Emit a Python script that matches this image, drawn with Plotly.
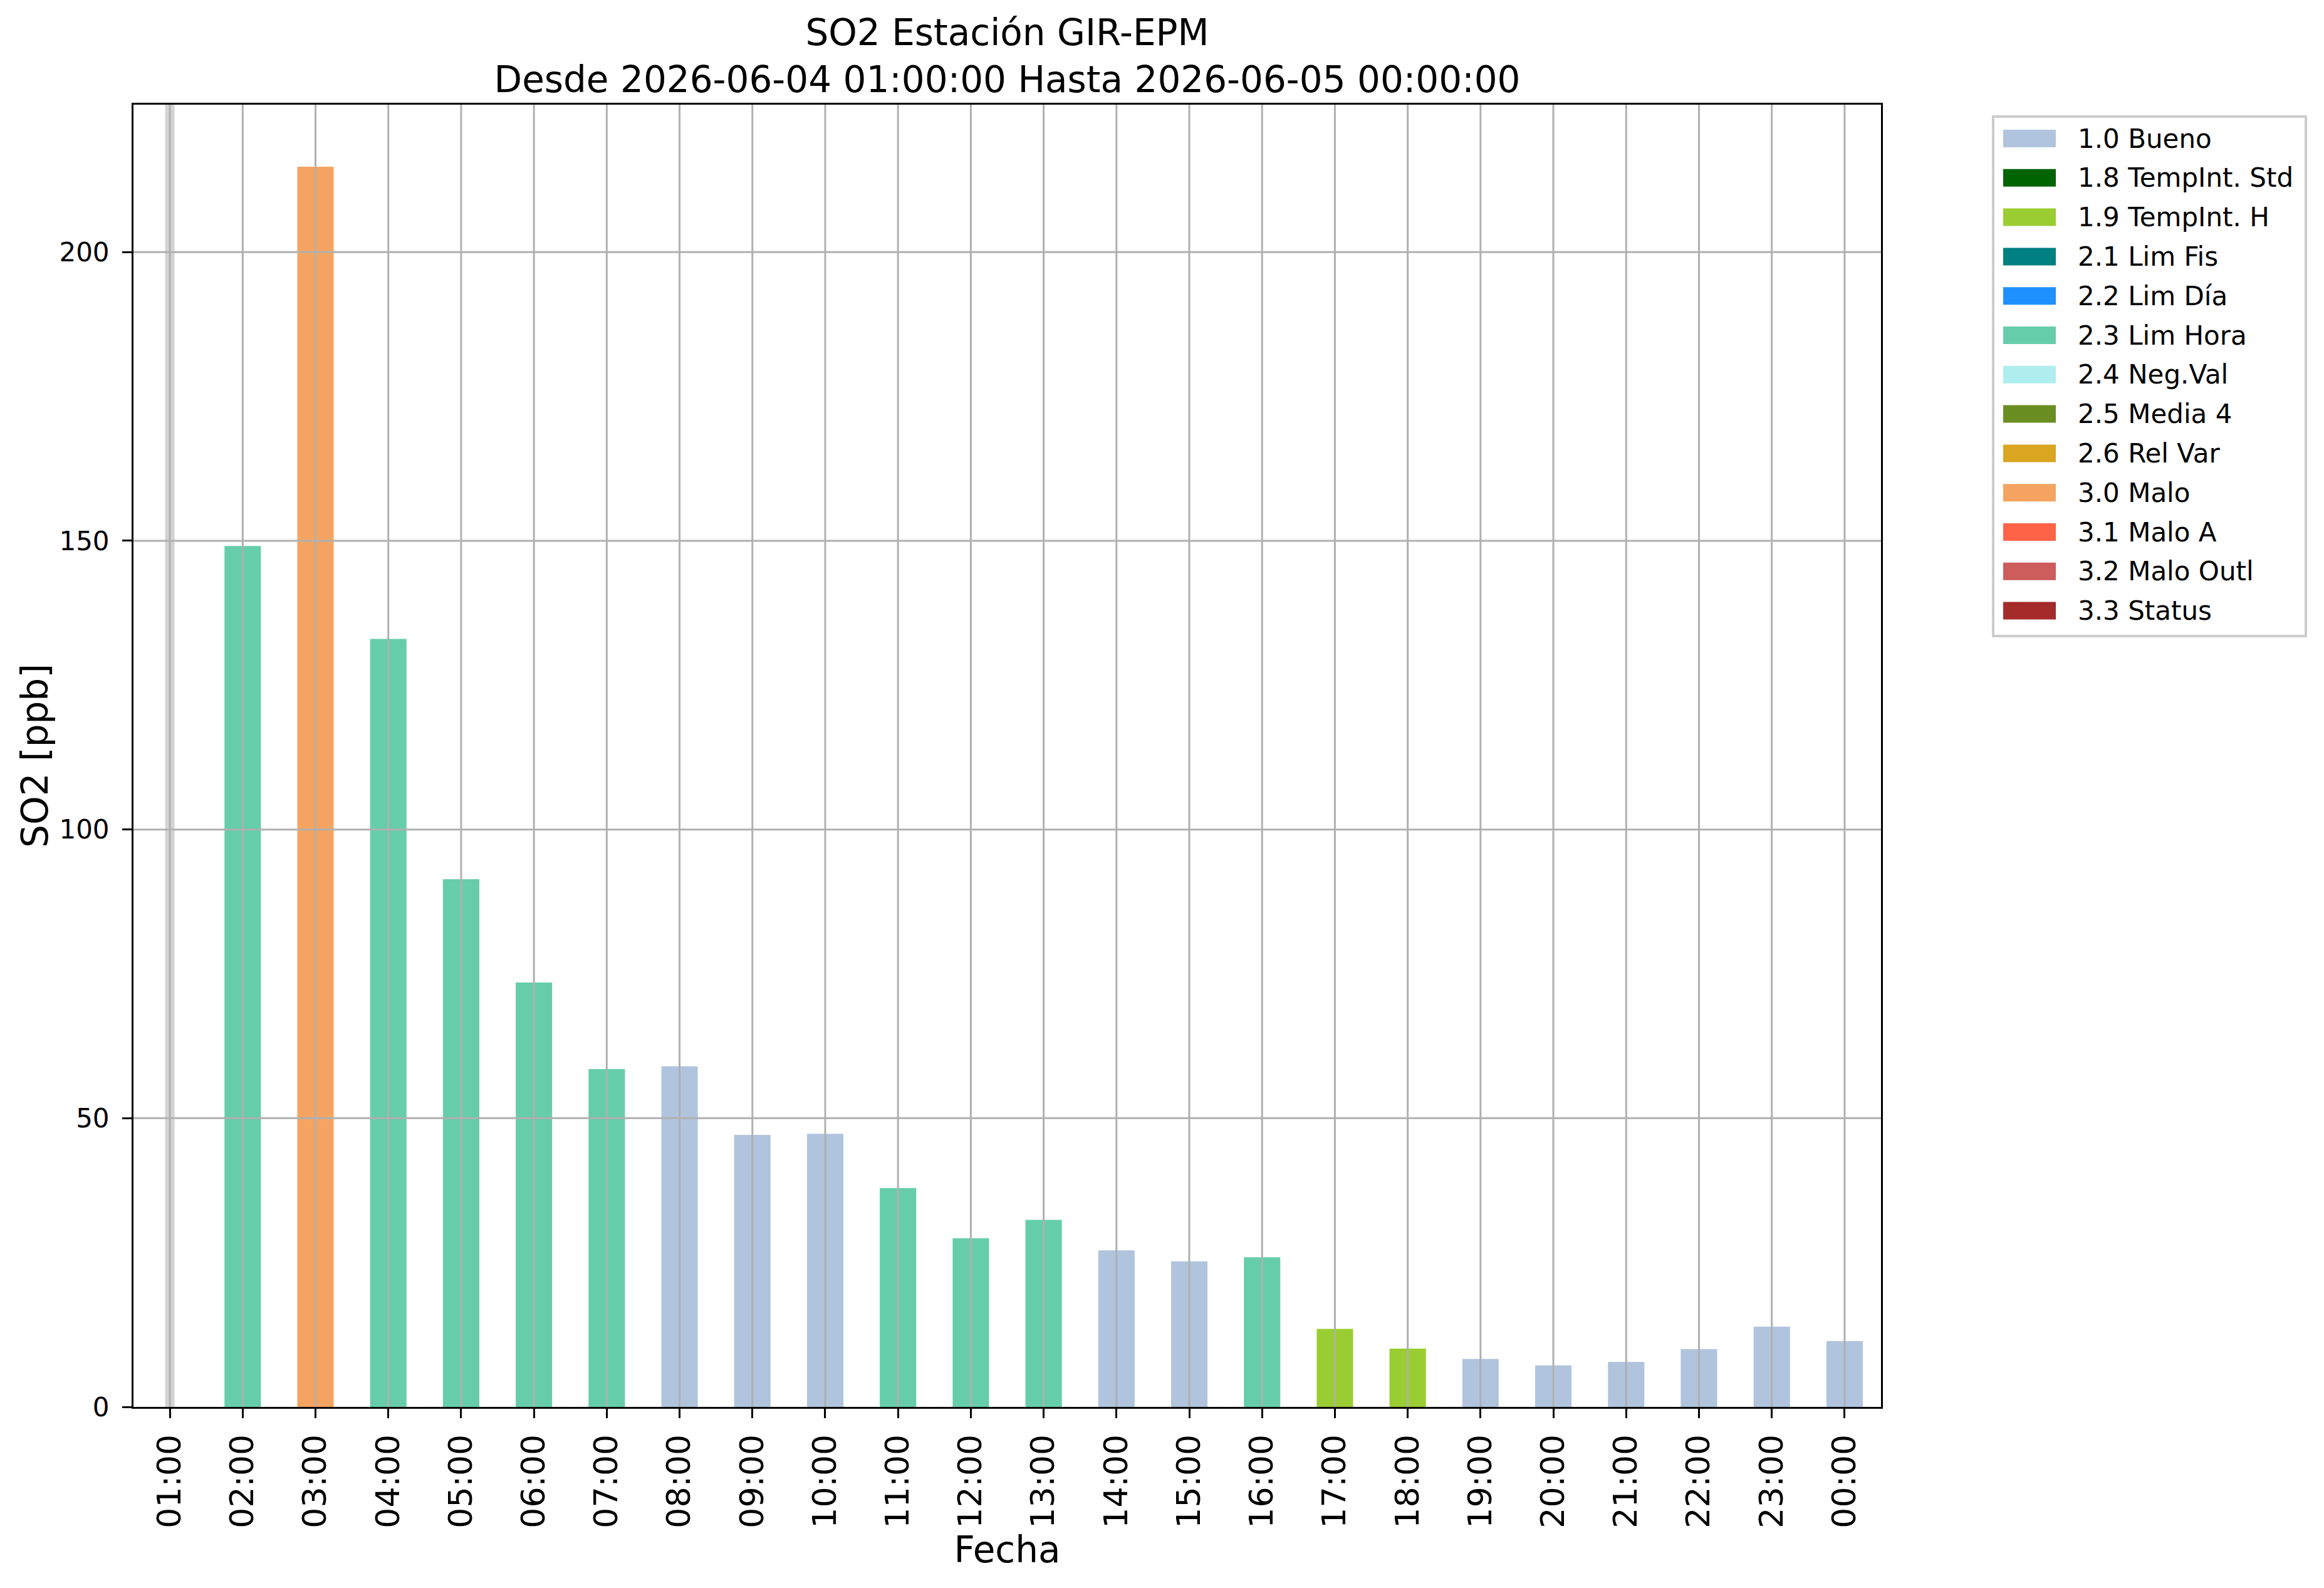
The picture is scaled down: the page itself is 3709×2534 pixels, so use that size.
import plotly.graph_objects as go

# hourly SO2 values (None = no data)
hours = ["01:00", "02:00", "03:00", "04:00", "05:00", "06:00", "07:00", "08:00",
         "09:00", "10:00", "11:00", "12:00", "13:00", "14:00", "15:00", "16:00",
         "17:00", "18:00", "19:00", "20:00", "21:00", "22:00", "23:00", "00:00"]
so2 = [None, 149.1, 214.8, 133.0, 91.4, 73.5, 58.5, 59.0,
       47.1, 47.3, 37.9, 29.2, 32.4, 27.1, 25.2, 25.9,
       13.5, 10.1, 8.3, 7.2, 7.8, 10.0, 13.9, 11.4]
flags = [None, "2.3", "3.0", "2.3", "2.3", "2.3", "2.3", "1.0",
         "1.0", "1.0", "2.3", "2.3", "2.3", "1.0", "1.0", "2.3",
         "1.9", "1.9", "1.0", "1.0", "1.0", "1.0", "1.0", "1.0"]

# quality flag categories
flag_codes = ["1.0", "1.8", "1.9", "2.1", "2.2", "2.3", "2.4", "2.5", "2.6",
              "3.0", "3.1", "3.2", "3.3"]
flag_names = ["Bueno", "TempInt. Std", "TempInt. H", "Lim Fis", "Lim Día",
              "Lim Hora", "Neg.Val", "Media 4", "Rel Var", "Malo", "Malo A",
              "Malo Outl", "Status"]
flag_colors = ["#B0C4DE", "#006400", "#9ACD32", "#008080", "#1E90FF",
               "#66CDAA", "#AFEEEE", "#6B8E23", "#DAA520", "#F4A460",
               "#FF6347", "#CD5C5C", "#A52A2A"]

FONT = "DejaVu Sans"
W, H = 3709, 2534
L, T = 205, 159
PW, PH = 2789, 2078          # plot area size in px
R, B = W - L - PW, H - T - PH


def px_x(x):
    return (x - L) / PW


def px_y(y):
    return 1 - (y - T) / PH


fig = go.Figure()

for code, name, color in zip(flag_codes, flag_names, flag_colors):
    yvals = [v if f == code else None for v, f in zip(so2, flags)]
    fig.add_trace(go.Bar(
        x=hours, y=yvals, name=f"{code} {name}",
        marker=dict(color=color, line=dict(width=0)),
        width=0.5, showlegend=False,
    ))

ymax = max(v for v in so2 if v is not None) * 1.05

# missing hours -> thin grey band
for i, v in enumerate(so2):
    if v is None:
        fig.add_vrect(x0=i - 0.065, x1=i + 0.065, fillcolor="#D3D3D3",
                      line_width=0, layer="below")

# grid drawn on top of the bars, like the original
grid = dict(color="#B0B0B0", width=3)
for h in hours:
    fig.add_shape(type="line", xref="x", yref="paper", x0=h, x1=h, y0=0, y1=1,
                  line=grid, layer="above")
for yv in range(50, int(ymax) + 1, 50):
    fig.add_shape(type="line", xref="paper", yref="y", x0=0, x1=1, y0=yv, y1=yv,
                  line=grid, layer="above")

# legend box (matplotlib style: wide colour patches)
fig.add_shape(type="rect", xref="paper", yref="paper",
              x0=px_x(3173), x1=px_x(3672), y0=px_y(1007), y1=px_y(178),
              line=dict(color="#CCCCCC", width=4), fillcolor="white", layer="above")
for i, (code, name, color) in enumerate(zip(flag_codes, flag_names, flag_colors)):
    yc = 213 + i * 62.8
    fig.add_shape(type="rect", xref="paper", yref="paper",
                  x0=px_x(3189), x1=px_x(3273), y0=px_y(yc + 14), y1=px_y(yc - 14),
                  line_width=0, fillcolor=color, layer="above")
    fig.add_annotation(xref="paper", yref="paper", x=px_x(3306), y=px_y(yc),
                       xanchor="left", yanchor="middle", showarrow=False,
                       text=f"{code} {name}",
                       font=dict(family=FONT, size=42, color="black"))

fig.update_layout(
    width=W, height=H,
    margin=dict(l=L, r=R, t=T, b=B),
    paper_bgcolor="white", plot_bgcolor="white",
    font=dict(family=FONT, color="black", size=42),
    barmode="overlay",
    title=dict(
        text="SO2 Estación GIR-EPM<br>Desde 2026-06-04 01:00:00 Hasta 2026-06-05 00:00:00",
        x=0.5, xref="paper", xanchor="center",
        y=1 - 64 / H, yref="container", yanchor="top",
        font=dict(family=FONT, size=58, color="black"),
    ),
    showlegend=False,
)

fig.update_xaxes(
    type="category", range=[-0.5, len(hours) - 0.5],
    showgrid=False, showline=True, mirror=True, linecolor="black", linewidth=3,
    ticks="outside", ticklen=15, tickwidth=3, tickcolor="black",
    tickangle=-90, tickfont=dict(family=FONT, size=52),
    ticklabelstandoff=5,
    title=dict(text="Fecha", font=dict(family=FONT, size=58), standoff=4),
)
fig.update_yaxes(
    range=[0, ymax], dtick=50, tick0=0,
    showgrid=False, zeroline=False,
    showline=True, mirror=True, linecolor="black", linewidth=3,
    ticks="outside", ticklen=15, tickwidth=3, tickcolor="black",
    tickfont=dict(family=FONT, size=42), ticklabelstandoff=12,
    title=dict(text="SO2 [ppb]", font=dict(family=FONT, size=58), standoff=0),
)

fig.write_html("out.html")
